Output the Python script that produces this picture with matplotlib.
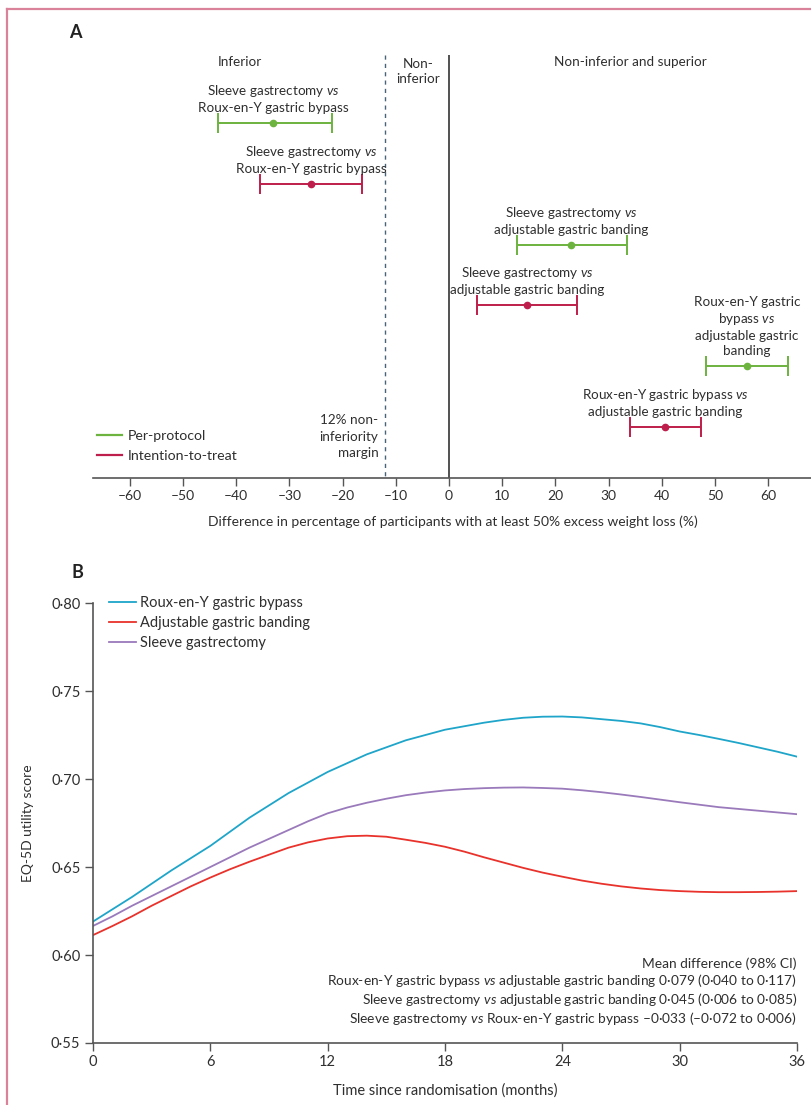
import numpy as np
import matplotlib
matplotlib.use('Agg')
import matplotlib.pyplot as plt
from matplotlib.lines import Line2D

# Police proche du style Lancet
plt.rcParams['font.family'] = ['Lato', 'DejaVu Sans']
plt.rcParams['mathtext.fontset'] = 'custom'
plt.rcParams['mathtext.rm'] = 'Lato'
plt.rcParams['mathtext.it'] = 'Lato:italic'

# ---- Données panneau A (différence en %, IC) ----
labels_a = [
    "Sleeve gastrectomy $\\mathit{vs}$\nRoux-en-Y gastric bypass",
    "Sleeve gastrectomy $\\mathit{vs}$\nRoux-en-Y gastric bypass",
    "Sleeve gastrectomy $\\mathit{vs}$\nadjustable gastric banding",
    "Sleeve gastrectomy $\\mathit{vs}$\nadjustable gastric banding",
    "Roux-en-Y gastric\nbypass $\\mathit{vs}$\nadjustable gastric\nbanding",
    "Roux-en-Y gastric bypass $\\mathit{vs}$\nadjustable gastric banding",
]
analyse_a = ['pp', 'itt', 'pp', 'itt', 'pp', 'itt']
estim_a = np.array([-33.0, -25.9, 22.9, 14.7, 56.0, 40.6])
bas_a = np.array([-43.5, -35.5, 12.8, 5.3, 48.3, 34.0])
haut_a = np.array([-22.0, -16.4, 33.5, 24.1, 63.7, 47.4])
marge = -12
ticks_a = list(range(-60, 61, 10))

# ---- Données panneau B (score EQ-5D, lu mois par mois) ----
mois = np.arange(0, 37)
rygb = [0.619, 0.626, 0.633, 0.6405, 0.648, 0.655, 0.662, 0.670, 0.678, 0.685,
        0.692, 0.698, 0.704, 0.709, 0.714, 0.718, 0.722, 0.725, 0.728, 0.730,
        0.732, 0.7336, 0.7348, 0.7354, 0.7355, 0.735, 0.734, 0.733, 0.7316, 0.7295,
        0.727, 0.725, 0.7228, 0.7205, 0.718, 0.7155, 0.7127]
agb = [0.6113, 0.6165, 0.622, 0.628, 0.6335, 0.639, 0.644, 0.6487, 0.653, 0.657,
       0.661, 0.664, 0.6662, 0.6675, 0.6678, 0.6672, 0.6655, 0.6637, 0.6615, 0.6587,
       0.6555, 0.6525, 0.6495, 0.6468, 0.6445, 0.6423, 0.6405, 0.639, 0.6378, 0.6369,
       0.6363, 0.6359, 0.6357, 0.6357, 0.6358, 0.636, 0.6363]
sg = [0.6165, 0.622, 0.628, 0.6335, 0.639, 0.6445, 0.650, 0.6555, 0.661, 0.666,
      0.671, 0.676, 0.6805, 0.6838, 0.6865, 0.6888, 0.6908, 0.6923, 0.6935, 0.6943,
      0.6948, 0.6951, 0.6952, 0.6949, 0.6945, 0.6936, 0.6925, 0.6912, 0.6898, 0.6883,
      0.6868, 0.6854, 0.684, 0.683, 0.682, 0.681, 0.680]
ticks_b_x = [0, 6, 12, 18, 24, 30, 36]
ticks_b_y = [0.55, 0.60, 0.65, 0.70, 0.75, 0.80]

texte_diff = ("Mean difference (98% CI)\n"
              "Roux-en-Y gastric bypass $\\mathit{vs}$ adjustable gastric banding 0·079 (0·040 to 0·117)\n"
              "Sleeve gastrectomy $\\mathit{vs}$ adjustable gastric banding 0·045 (0·006 to 0·085)\n"
              "Sleeve gastrectomy $\\mathit{vs}$ Roux-en-Y gastric bypass –0·033 (–0·072 to 0·006)")

# Couleurs
vert = '#6cb33f'
rouge_itt = '#be1e4b'
bleu = '#1ea5c9'
rouge = '#e8322b'
violet = '#9a7abb'
texte = '#2f2f2f'
axe = '#555555'
rose = '#d9829a'

W, H = 812, 1105
fig = plt.figure(figsize=(W / 100, H / 100), dpi=100)

# Cadre rose (haut et gauche)
fig.add_artist(Line2D([7 / W, 7 / W], [0, 1 - 9 / H], color=rose, lw=1.6, transform=fig.transFigure))
fig.add_artist(Line2D([7 / W, 1], [1 - 9 / H, 1 - 9 / H], color=rose, lw=1.6, transform=fig.transFigure))

# ================= Panneau A =================
axA = fig.add_axes([93 / W, 1 - 478 / H, (W - 93) / W, (478 - 50) / H])
rangs = np.arange(len(estim_a))
for i in rangs:
    c = vert if analyse_a[i] == 'pp' else rouge_itt
    axA.errorbar(estim_a[i], i, xerr=[[estim_a[i] - bas_a[i]], [haut_a[i] - estim_a[i]]],
                 fmt='o', color=c, ms=4.5, elinewidth=1.4, capsize=7, capthick=1.4)
    axA.annotate(labels_a[i], (estim_a[i], i), xytext=(0, 9), textcoords='offset pixels',
                 ha='center', va='bottom', fontsize=9.7, color=texte, linespacing=1.3)

axA.set_ylim(5.84, -1.2)
axA.set_xlim(-66.9, 68.2)
axA.vlines(0, -1.12, 5.84, color='#222222', lw=1.1)
axA.vlines(marge, -1.12, 5.84, color='#4a6378', lw=1.0, linestyles=(0, (3, 3)))

axA.text(-39.3, -1.0, 'Inferior', ha='center', va='center', fontsize=9.7, color=texte)
axA.text(-5.8, -0.84, 'Non-\ninferior', ha='center', va='center', fontsize=9.7, color=texte, linespacing=1.3)
axA.text(34, -1.0, 'Non-inferior and superior', ha='center', va='center', fontsize=9.7, color=texte)
axA.text(-13.3, 5.16, '12% non-\ninferiority\nmargin', ha='right', va='center', fontsize=9.7,
         color=texte, linespacing=1.45)

for s in ['top', 'right', 'left']:
    axA.spines[s].set_visible(False)
axA.spines['bottom'].set_color(axe)
axA.spines['bottom'].set_linewidth(1.2)
axA.set_yticks([])
axA.set_xticks(ticks_a)
axA.set_xticklabels([str(t).replace('-', '–') for t in ticks_a])
axA.tick_params(axis='x', direction='out', length=6, width=1, colors=axe, labelcolor=texte,
                labelsize=10, pad=3)
axA.set_xlabel('Difference in percentage of participants with at least 50% excess weight loss (%)',
               fontsize=10, color=texte, labelpad=9)
axA.legend(handles=[Line2D([], [], color=vert, lw=1.6, label='Per-protocol'),
                    Line2D([], [], color=rouge_itt, lw=1.6, label='Intention-to-treat')],
           loc='upper left', bbox_to_anchor=(0.0056, 0.112), frameon=False, fontsize=10.2,
           handlelength=1.75, handletextpad=0.45, labelspacing=0.55, borderpad=0, borderaxespad=0,
           labelcolor=texte)

fig.text(75 / W, 1 - 33 / H, 'A', fontsize=13, fontweight='bold', color='#222222', ha='center', va='center')

# ================= Panneau B =================
axB = fig.add_axes([93 / W, 1 - 1043 / H, (797 - 93) / W, (1043 - 603) / H])
axB.plot(mois, rygb, color=bleu, lw=1.3, label='Roux-en-Y gastric bypass')
axB.plot(mois, agb, color=rouge, lw=1.3, label='Adjustable gastric banding')
axB.plot(mois, sg, color=violet, lw=1.3, label='Sleeve gastrectomy')

axB.set_xlim(0, 36)
axB.set_ylim(0.55, 0.80)
axB.set_xticks(ticks_b_x)
axB.set_xticklabels([str(t) for t in ticks_b_x])
axB.set_yticks(ticks_b_y)
axB.set_yticklabels([f'{v:.2f}'.replace('.', '·') for v in ticks_b_y])
for s in ['top', 'right']:
    axB.spines[s].set_visible(False)
for s in ['left', 'bottom']:
    axB.spines[s].set_color(axe)
    axB.spines[s].set_linewidth(1.2)
axB.tick_params(direction='out', length=6, width=1, colors=axe, labelcolor=texte, labelsize=10.5, pad=3)
axB.set_ylabel('EQ-5D utility score', fontsize=10, color=texte, labelpad=12)
axB.set_xlabel('Time since randomisation (months)', fontsize=10.5, color=texte, labelpad=10)

axB.legend(loc='upper left', bbox_to_anchor=(0.0227, 1.016), frameon=False, fontsize=10.5,
           handlelength=1.85, handletextpad=0.25, labelspacing=0.42, borderpad=0, borderaxespad=0,
           labelcolor=texte)

axB.text(1.0, 0.036, texte_diff, transform=axB.transAxes, ha='right', va='bottom',
         fontsize=9.9, color=texte, linespacing=1.17)

fig.text(77 / W, 1 - 573 / H, 'B', fontsize=13, fontweight='bold', color='#222222', ha='center', va='center')

fig.savefig('out.png', dpi=100)
